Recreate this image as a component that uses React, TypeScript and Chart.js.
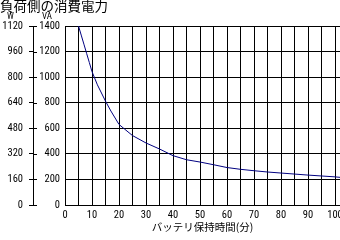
import { useEffect, useRef } from "react";
import { Chart, registerables } from "chart.js";

Chart.register(...registerables);

// ---- data ----
const minutes = [5, 6, 7, 8, 9, 10, 12, 15, 17, 20, 22, 25, 30, 35, 40, 45, 50, 55, 60, 65, 70, 75, 80, 85, 90, 95, 100, 102];
const powerVA = [1400, 1329, 1258, 1186, 1115, 1043, 940, 812, 735, 630, 595, 543, 485, 438, 386, 354, 336, 315, 293, 279, 268, 258, 250, 242, 234, 227, 220, 216];
const xGridTicks = [0, 5, 10, 15, 20, 25, 30, 35, 40, 45, 50, 55, 60, 65, 70, 75, 80, 85, 90, 95, 100];
const xLabelTicks = [0, 10, 20, 30, 40, 50, 60, 70, 80, 90, 100];
const vaTicks = [0, 200, 400, 600, 800, 1000, 1200, 1400];
const wTicks = [0, 160, 320, 480, 640, 800, 960, 1120];
const chartTitle = "負荷側の消費電力";
const wUnit = "W";
const vaUnit = "VA";
const xTitle = "バッテリ保持時間(分)";

const NUM_FONT = "'Roboto Condensed', 'Liberation Sans', sans-serif";
const JP_FONT = "'Noto Sans CJK JP', sans-serif";

const extras = {
  id: "extras",
  afterDraw(chart: any) {
    const ctx = chart.ctx as CanvasRenderingContext2D;
    const w = chart.scales.yW;
    ctx.save();
    ctx.strokeStyle = "#000";
    ctx.lineWidth = 1;
    ctx.beginPath();
    for (const t of w.ticks) {
      const y = Math.round(w.getPixelForValue(t.value)) + 0.5;
      ctx.moveTo(w.right, y);
      ctx.lineTo(w.right + 4, y);
    }
    ctx.stroke();
    ctx.fillStyle = "#000";
    ctx.textBaseline = "middle";
    ctx.textAlign = "left";
    ctx.font = `13.5px ${JP_FONT}`;
    ctx.fillText(chartTitle, 0, 5.5);
    ctx.font = `9px ${NUM_FONT}`;
    ctx.fillText(wUnit, 7, 17);
    ctx.fillText(vaUnit, 42, 17);
    ctx.restore();
  },
};

export default function App() {
  const ref = useRef<HTMLCanvasElement | null>(null);
  useEffect(() => {
    if (!ref.current) return;
    const chart = new Chart(ref.current, {
      type: "line",
      data: {
        datasets: [
          {
            data: minutes.map((m, i) => ({ x: m, y: powerVA[i] })),
            borderColor: "#000080",
            borderWidth: 1,
            pointRadius: 0,
            tension: 0,
            fill: false,
          },
        ],
      },
      options: {
        responsive: false,
        animation: false,
        layout: { padding: { top: 26, left: 0, right: 0, bottom: 0 } },
        plugins: { legend: { display: false }, tooltip: { enabled: false }, title: { display: false } },
        scales: {
          x: {
            type: "linear",
            min: 0,
            max: 101.85,
            afterBuildTicks: (s: any) => {
              s.ticks = xGridTicks.map((v) => ({ value: v }));
            },
            afterFit: (s: any) => {
              s.height = 35;
              s.paddingLeft = 0;
              s.paddingRight = 0;
            },
            grid: { color: "#000", lineWidth: 1, drawTicks: false },
            border: { display: true, color: "#000", width: 1 },
            ticks: {
              padding: 4,
              color: "#000",
              font: { family: NUM_FONT, size: 10.5 },
              autoSkip: false,
              maxRotation: 0,
              callback: (v: any) => (xLabelTicks.includes(Number(v)) ? String(v) : ""),
            },
            title: {
              display: true,
              text: xTitle,
              color: "#000",
              font: { family: JP_FONT, size: 10.5 },
              padding: { top: 0, bottom: 7 },
            },
          },
          y: {
            type: "linear",
            position: "left",
            weight: 0,
            min: 0,
            max: 1400,
            afterBuildTicks: (s: any) => {
              s.ticks = vaTicks.map((v) => ({ value: v }));
            },
            afterFit: (s: any) => {
              s.width = 32;
              s.paddingTop = 0;
              s.paddingBottom = 0;
            },
            grid: { color: "#000", lineWidth: 1, drawTicks: false },
            border: { display: true, color: "#000", width: 1 },
            ticks: {
              padding: 5,
              color: "#000",
              font: { family: NUM_FONT, size: 10.5 },
              autoSkip: false,
              callback: (v: any) => String(v),
            },
          },
          yW: {
            type: "linear",
            position: "left",
            weight: 1,
            min: 0,
            max: 1120,
            afterBuildTicks: (s: any) => {
              s.ticks = wTicks.map((v) => ({ value: v }));
            },
            afterFit: (s: any) => {
              s.width = 33;
              s.paddingTop = 0;
              s.paddingBottom = 0;
            },
            grid: { color: "#000", lineWidth: 1, drawTicks: true, tickLength: 4, drawOnChartArea: false },
            border: { display: true, color: "#000", width: 1 },
            ticks: {
              padding: 6,
              color: "#000",
              font: { family: NUM_FONT, size: 10.5 },
              autoSkip: false,
              callback: (v: any) => String(v),
            },
          },
        },
      },
      plugins: [extras],
    } as any);
    return () => chart.destroy();
  }, []);
  return (
    <div style={{ position: "absolute", left: 0, top: 0, width: 340, height: 240, background: "#fff" }}>
      <canvas ref={ref} width={340} height={240} />
    </div>
  );
}
